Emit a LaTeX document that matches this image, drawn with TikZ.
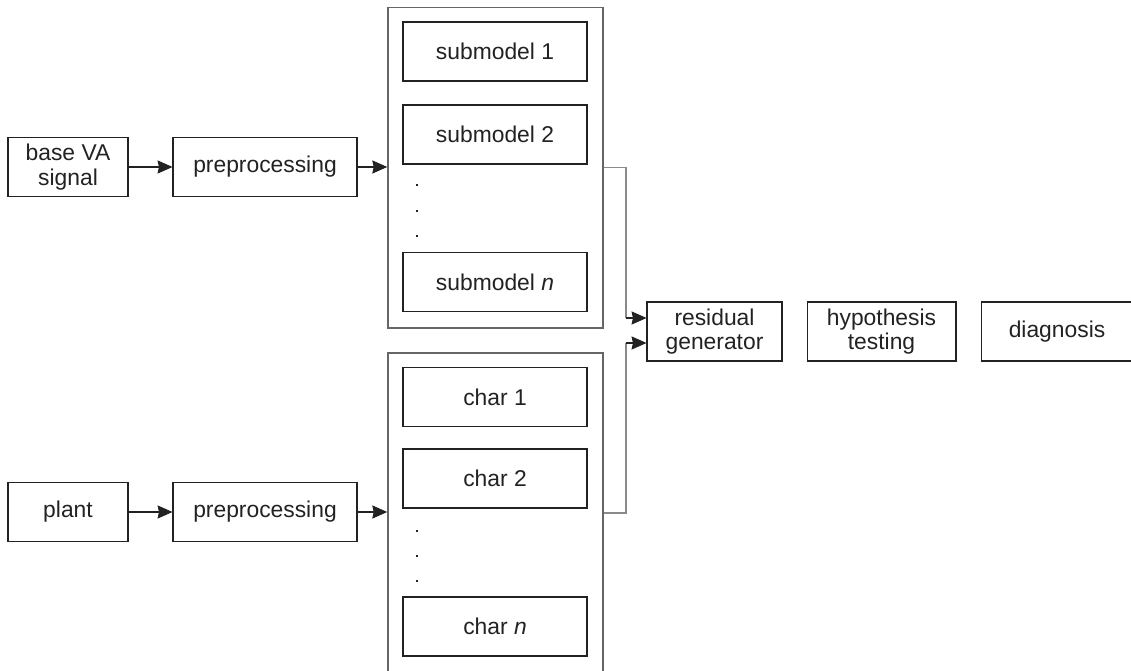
\documentclass[tikz,border=0pt]{standalone}
\usepackage{fontspec}
\setmainfont{Liberation Sans}
\usetikzlibrary{arrows.meta}
\definecolor{ink}{HTML}{222222}
\definecolor{frame}{HTML}{666666}
\definecolor{feed}{HTML}{8A8A8A}
\begin{document}
\begin{tikzpicture}[
  x=0.02cm, y=-0.02cm,
  font=\fontsize{13}{14}\selectfont,
  box/.style={draw=ink, line width=0.6pt, text=ink, align=center,
              inner sep=0pt, minimum height=1.18cm},
  outerbox/.style={draw=frame, line width=0.9pt, inner sep=0pt,
              minimum width=4.3cm, minimum height=6.41cm},
  dotmark/.style={rectangle, fill=ink, inner sep=0pt, minimum size=1.5pt},
  arr/.style={draw=ink, line width=0.6pt,
              -{Stealth[length=8.5pt, width=7.5pt, inset=0.8pt]}},
  feedline/.style={draw=feed, line width=0.6pt}
]
\useasboundingbox (0,0) rectangle (1131,671);

% inputs and preprocessing
\node[box, minimum width=2.4cm]  (base) at (68,167)  {base VA\\signal};
\node[box, minimum width=3.68cm] (pre1) at (265,167) {preprocessing};
\node[box, minimum width=2.4cm]  (plant) at (68,512) {plant};
\node[box, minimum width=3.68cm] (pre2) at (265,512) {preprocessing};

% submodel bank
\node[outerbox] (bank1) at (495.5,167.75) {};
\node[box, minimum width=3.68cm] (sub1) at (495,51.5)  {submodel 1};
\node[box, minimum width=3.68cm] (sub2) at (495,134.5) {submodel 2};
\node[dotmark] (sd1) at (417,185) {};
\node[dotmark] (sd2) at (417,211) {};
\node[dotmark] (sd3) at (417,236) {};
\node[box, minimum width=3.68cm] (subn) at (495,282) {submodel \textit{n}};

% characteristic bank
\node[outerbox] (bank2) at (495.5,513) {};
\node[box, minimum width=3.68cm] (ch1) at (495,397)   {char 1};
\node[box, minimum width=3.68cm] (ch2) at (495,478.5) {char 2};
\node[dotmark] (cd1) at (417,531) {};
\node[dotmark] (cd2) at (417,556) {};
\node[dotmark] (cd3) at (417,581) {};
\node[box, minimum width=3.68cm] (chn) at (495,626.5) {char \textit{n}};

% evaluation chain
\node[box, minimum width=2.7cm]  (resid) at (714.5,331.5) {residual\\generator};
\node[box, minimum width=2.98cm] (hyp)   at (881.5,331.5) {hypothesis\\testing};
\node[box, minimum width=3.04cm] (diag)  at (1057,331.5)  {diagnosis};

% signal flow
\draw[arr] (base) -- (pre1);
\draw[arr] (pre1) -- (pre1 -| bank1.west);
\draw[arr] (plant) -- (pre2);
\draw[arr] (pre2) -- (pre2 -| bank2.west);

\coordinate (k1) at (626,318);
\coordinate (k2) at (626,343);
\draw[feedline] (bank1.east) -| (k1);
\draw[feedline] (bank2.east) -| (k2);
\draw[arr] (k1) -- (k1 -| resid.west);
\draw[arr] (k2) -- (k2 -| resid.west);
\end{tikzpicture}
\end{document}
